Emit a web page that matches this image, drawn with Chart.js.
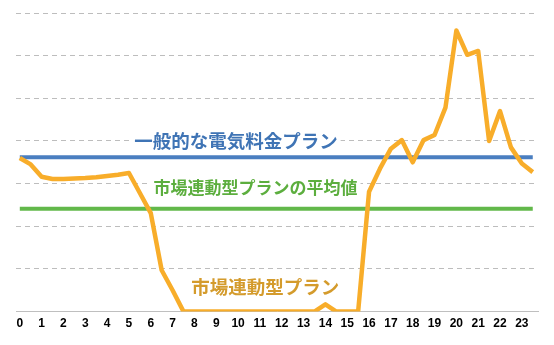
<!DOCTYPE html>
<html lang="ja">
<head>
<meta charset="utf-8">
<script src="https://cdn.jsdelivr.net/npm/chart.js@4.4.1/dist/chart.umd.min.js"></script>
<style>
  html, body { margin: 0; padding: 0; background: #fff; }
  #wrap { width: 554px; height: 345px; }
</style>
</head>
<body>
<div id="wrap"><canvas id="priceChart" width="554" height="345"></canvas></div>
<script>
// half-hour slots of one day
const hours = [
  0, 0.5, 1, 1.5, 2, 2.5, 3, 3.5, 4, 4.5, 5, 5.5,
  6, 6.5, 7, 7.5, 8, 8.5, 9, 9.5, 10, 10.5, 11, 11.5,
  12, 12.5, 13, 13.5, 14, 14.5, 15, 15.5, 16, 16.5, 17, 17.5,
  18, 18.5, 19, 19.5, 20, 20.5, 21, 21.5, 22, 22.5, 23, 23.5
];

// market-linked plan price per slot
const marketPrices = [
  3.60, 3.45, 3.16, 3.11, 3.11, 3.12, 3.13, 3.15, 3.18, 3.21, 3.25, 2.78,
  2.31, 0.97, 0.50, 0.00, 0.00, 0.00, 0.00, 0.00, 0.00, 0.00, 0.00, 0.00,
  0.00, 0.00, 0.00, 0.00, 0.17, 0.00, 0.00, 0.00, 2.81, 3.35, 3.82, 4.02,
  3.50, 4.02, 4.14, 4.78, 6.59, 6.02, 6.11, 4.00, 4.70, 3.85, 3.47, 3.27
];

// flat prices
const generalPrice = 3.62;
const marketAverage = 2.41;

const hourTicks = [0, 1, 2, 3, 4, 5, 6, 7, 8, 9, 10, 11, 12, 13, 14, 15, 16, 17, 18, 19, 20, 21, 22, 23];

// series captions
const captionTexts = ['一般的な電気料金プラン', '市場連動型プランの平均値', '市場連動型プラン'];
const captionHours = [9.9, 10.8, 11.25];
const captionValues = [4.0, 2.9, 0.58];

const captionStyles = [
  { color: '#3F74B5', size: 18.5 },
  { color: '#5CAE3E', size: 17 },
  { color: '#D49B2C', size: 18.5 }
];

const toPoints = (ys) => hours.map((h, i) => ({ x: h, y: ys[i] }));

// draw the captions on white boxes, above the grid but under the lines
const captionPlugin = {
  id: 'captions',
  beforeDatasetsDraw(chart) {
    const ctx = chart.ctx;
    const xs = chart.scales.x;
    const ys = chart.scales.y;
    ctx.save();
    ctx.textAlign = 'center';
    ctx.textBaseline = 'middle';
    captionTexts.forEach((text, i) => {
      const st = captionStyles[i];
      ctx.font = `bold ${st.size}px "Noto Sans CJK JP", sans-serif`;
      const cx = xs.getPixelForValue(captionHours[i]);
      const cy = ys.getPixelForValue(captionValues[i]);
      const w = ctx.measureText(text).width;
      ctx.fillStyle = '#fff';
      ctx.fillRect(cx - w / 2 - 3, cy - st.size / 2 - 2, w + 6, st.size + 4);
      ctx.fillStyle = st.color;
      ctx.fillText(text, cx, cy);
    });
    ctx.restore();
  }
};

const chart = new Chart(document.getElementById('priceChart'), {
  type: 'line',
  data: {
    datasets: [
      {
        label: '市場連動型プラン',
        data: toPoints(marketPrices),
        borderColor: '#F8AD2A',
        borderWidth: 4.5,
        borderJoinStyle: 'round',
        pointRadius: 0,
        order: 0
      },
      {
        label: '一般的な電気料金プラン',
        data: toPoints(hours.map(() => generalPrice)),
        borderColor: '#4A7EC0',
        borderWidth: 4,
        pointRadius: 0,
        order: 1
      },
      {
        label: '市場連動型プランの平均値',
        data: toPoints(hours.map(() => marketAverage)),
        borderColor: '#62B84A',
        borderWidth: 4,
        pointRadius: 0,
        order: 2
      }
    ]
  },
  options: {
    responsive: false,
    animation: false,
    layout: { padding: { left: 16, right: 16, top: 13, bottom: 9 } },
    plugins: {
      legend: { display: false },
      tooltip: { enabled: false }
    },
    scales: {
      x: {
        type: 'linear',
        min: -0.174,
        max: 23.74,
        afterBuildTicks: (scale) => {
          scale.ticks = hourTicks.map(v => ({ value: v }));
        },
        ticks: {
          autoSkip: false,
          maxRotation: 0,
          padding: 5,
          color: '#000',
          font: { family: '"Liberation Sans", Arial, sans-serif', size: 12, weight: 'bold' },
          callback: (v) => String(v)
        },
        grid: { display: false, drawTicks: false },
        border: { display: true, color: '#BFBFBF', width: 1 }
      },
      y: {
        min: 0,
        max: 7,
        ticks: { display: false, stepSize: 1 },
        grid: {
          drawTicks: false,
          color: (c) => (c.tick.value === 0 ? 'rgba(0,0,0,0)' : '#BDBDBD'),
          lineWidth: 1
        },
        border: { display: false, dash: [5, 4] }
      }
    }
  },
  plugins: [captionPlugin]
});
</script>
</body>
</html>
